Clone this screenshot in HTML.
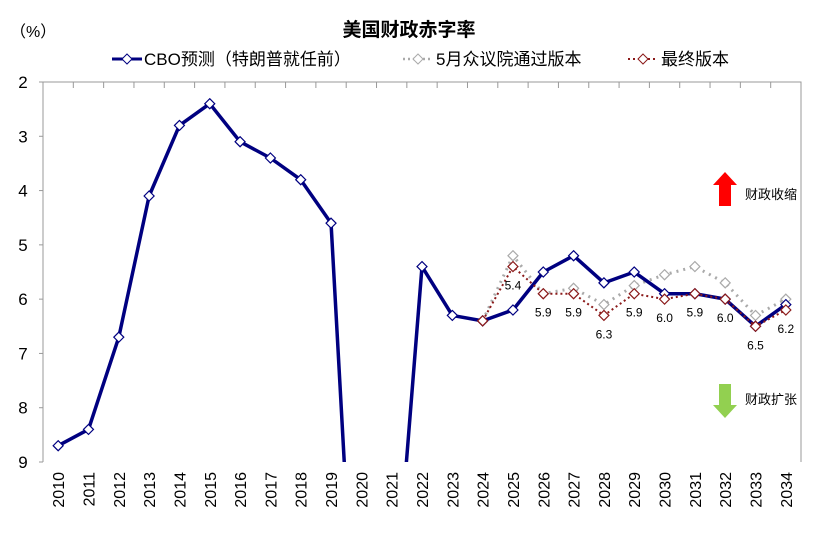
<!DOCTYPE html>
<html><head><meta charset="utf-8"><style>
html,body{margin:0;background:#fff;overflow:hidden;width:819px;height:533px;}
svg{display:block;}
svg text{font-family:"Liberation Sans","Noto Sans CJK SC",sans-serif;}
</style></head><body>
<svg id="chart" width="819" height="533" xmlns="http://www.w3.org/2000/svg">
<defs><clipPath id="clip"><rect x="43" y="82" width="758" height="380"/></clipPath></defs>
<text x="409" y="36" text-anchor="middle" font-size="19" font-weight="bold">美国财政赤字率</text>
<text x="10" y="37" font-size="16">（%）</text>
<g id="legend" font-size="17">
 <g>
  <line x1="112" y1="59" x2="142" y2="59" stroke="#000080" stroke-width="3"/>
  <path d="M127 54 L132 59 L127 64 L122 59Z" fill="#fff" stroke="#000080" stroke-width="1"/>
  <text x="144" y="65">CBO预测（特朗普就任前）</text></g>
 <g>
  <line x1="403" y1="59" x2="433" y2="59" stroke="#aaa" stroke-width="2.5" stroke-dasharray="2,3"/>
  <path d="M418 54 L423 59 L418 64 L413 59Z" fill="#fff" stroke="#aaa" stroke-width="1"/>
  <text x="436" y="65">5月众议院通过版本</text></g>
 <g>
  <line x1="628" y1="59" x2="658" y2="59" stroke="#8b1a1a" stroke-width="2" stroke-dasharray="2,3"/>
  <path d="M643 54 L648 59 L643 64 L638 59Z" fill="#fff" stroke="#8b1a1a" stroke-width="1"/>
  <text x="661" y="65">最终版本</text></g>
</g>
<g id="axes"></g>
<g id="series" clip-path="url(#clip)"></g>
<g id="labels"></g>
<g>
 <path d="M725 172 L737 185 L731 185 L731 206 L719 206 L719 185 L713 185Z" fill="#ff0000"/>
 <text x="745" y="199" font-size="13">财政收缩</text></g>
<g>
 <path d="M725 418 L737 405 L731 405 L731 384 L719 384 L719 405 L713 405Z" fill="#92d050"/>
 <text x="745" y="404" font-size="13">财政扩张</text></g>
</svg>
<script>
const years=["2010","2011","2012","2013","2014","2015","2016","2017","2018","2019","2020","2021","2022","2023","2024","2025","2026","2027","2028","2029","2030","2031","2032","2033","2034"];
const yTicks=[2,3,4,5,6,7,8,9];
const cbo=[8.7,8.4,6.7,4.1,2.8,2.4,3.1,3.4,3.8,4.6,14.7,12.4,5.4,6.3,6.4,6.2,5.5,5.2,5.7,5.5,5.9,5.9,6.0,6.5,6.1];
const mayHouse=[null,null,null,null,null,null,null,null,null,null,null,null,null,null,6.4,5.2,5.9,5.8,6.1,5.75,5.55,5.4,5.7,6.3,6.0];
const finalV=[null,null,null,null,null,null,null,null,null,null,null,null,null,null,6.4,5.4,5.9,5.9,6.3,5.9,6.0,5.9,6.0,6.5,6.2];
const finalLabels=[null,null,null,null,null,null,null,null,null,null,null,null,null,null,null,"5.4","5.9","5.9","6.3","5.9","6.0","5.9","6.0","6.5","6.2"];
const NS="http://www.w3.org/2000/svg";
const L=43,R=801,T=82,B=462,yMin=2,yMax=9;
const bw=(R-L)/years.length;
const xS=i=>L+bw*(i+0.5);
const yS=v=>T+(v-yMin)/(yMax-yMin)*(B-T);
function mk(tag,attrs,parent){const e=document.createElementNS(NS,tag);for(const k in attrs)e.setAttribute(k,attrs[k]);parent.appendChild(e);return e;}
const axes=document.getElementById('axes');
const frame=mk('path',{d:`M${L} ${B} L${L} ${T} L${R} ${T} L${R} ${B}`,fill:'none',stroke:'#999','stroke-width':1},axes);


for(let i=0;i<=years.length;i++){const x=L+bw*i;const t=mk('line',{x1:x,y1:T,x2:x,y2:T+6,stroke:'#999'},axes);

}
yTicks.forEach(v=>{const t=mk('text',{x:23,y:yS(v)+6,'text-anchor':'middle','font-size':17},axes);t.textContent=v;


const tk=mk('line',{x1:L-4,y1:yS(v),x2:L,y2:yS(v),stroke:'#999'},axes);

});
years.forEach((y,i)=>{const t=mk('text',{x:0,y:0,'font-size':16,'text-anchor':'end',transform:`translate(${xS(i)+6},472) rotate(-90)`},axes);t.textContent=y;

});
const sg=document.getElementById('series');
function series(vals,name,color,w,dash,mw){
 const g=mk('g',{},sg);
 
 
 let pts=[];vals.forEach((v,i)=>{if(v!=null)pts.push([xS(i),yS(v)]);});
 const p=mk('polyline',{points:pts.map(p=>p.join(',')).join(' '),fill:'none',stroke:color,'stroke-width':w,'stroke-linejoin':'round'},g);
 if(dash)p.setAttribute('stroke-dasharray',dash);
 
 
 vals.forEach((v,i)=>{if(v==null||v>yMax)return;const x=xS(i),y=yS(v);
  const m=mk('path',{d:`M${x} ${y-mw} L${x+mw} ${y} L${x} ${y+mw} L${x-mw} ${y}Z`,fill:'#fff',stroke:color,'stroke-width':1.2},g);
  
  });
}
series(mayHouse,'may-house-series','#aaa',3,'2,5',5);
series(cbo,'cbo-series','#000080',3.5,null,5);
series(finalV,'final-series','#8b1a1a',2,'2,3',5);
const lg=document.getElementById('labels');
finalV.forEach((v,i)=>{if(finalLabels[i]==null)return;const t=mk('text',{x:xS(i),y:yS(v)+23,'text-anchor':'middle','font-size':12},lg);t.textContent=finalLabels[i];

});
</script>
</body></html>
